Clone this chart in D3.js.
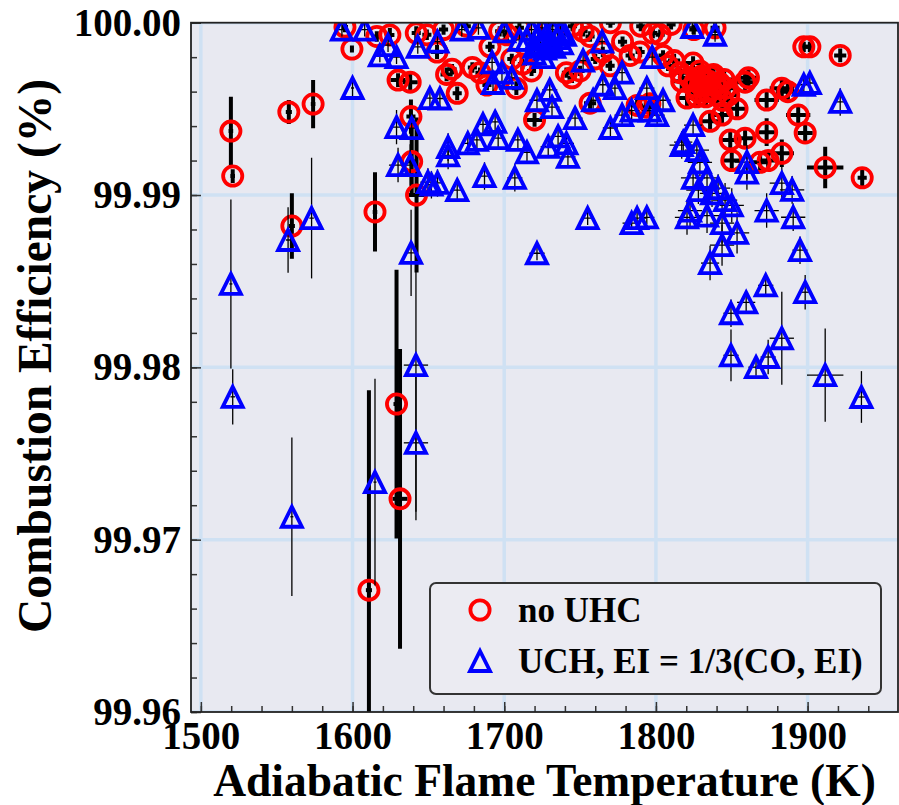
<!DOCTYPE html>
<meta charset="utf-8" />
<script src="https://d3js.org/d3.v7.min.js"></script>
<style>
  body { margin: 0; background: #fff; }
  text { font-family: "Liberation Serif", "Times New Roman", serif; font-weight: bold; }
</style>
<body>
<div id="chart"></div>
<script>
  // [T (K), efficiency (%), T error, efficiency error]
  const noUhc = [
    [1519.8, 99.99371, 1.5, 0.0020], [1521.0, 99.99110, 1.5, 0.0004],
    [1558.0, 99.99482, 2, 0.0007], [1574.0, 99.99528, 1.5, 0.0014],
    [1560.0, 99.98820, 2, 0.0019], [1614.8, 99.98902, 1.5, 0.0023],
    [1642.2, 99.99000, 5, 0.0045], [1639.0, 99.99194, 3, 0.0020],
    [1638.5, 99.99455, 3, 0.0010], [1610.8, 99.96707, 2, 0.0116],
    [1629.0, 99.97787, 2, 0.0078], [1631.3, 99.97237, 5, 0.0087],
    [1599.6, 99.99847, 1, 0.0002], [1595, 99.99975, 2, 0.0003],
    [1616, 99.9992, 3, 0.0003], [1624.6, 99.99929, 3, 0.0004],
    [1630, 99.99667, 5, 0.0004], [1638, 99.99655, 5, 0.0006],
    [1642, 99.9994, 3, 0.0004], [1649, 99.9993, 3, 0.0003],
    [1655.7, 99.9983, 4, 0.0004], [1662, 99.9970, 4, 0.0004],
    [1665.6, 99.9973, 3, 0.0003], [1669, 99.9959, 3, 0.0004],
    [1679, 99.9974, 3, 0.0003], [1684, 99.9971, 3, 0.0003],
    [1688.6, 99.99638, 3, 0.0003], [1690.6, 99.9986, 3, 0.0003],
    [1697, 99.9995, 3, 0.0003], [1701.8, 99.9993, 3, 0.0003],
    [1708, 99.9962, 3, 0.0004], [1720, 99.99436, 5, 0.0004],
    [1741, 99.9971, 3, 0.0003], [1744.7, 99.9968, 3, 0.0003],
    [1752, 99.9995, 3, 0.0003], [1756.6, 99.9992, 3, 0.0003],
    [1756.6, 99.99533, 4, 0.0004], [1765, 99.9983, 3, 0.0003],
    [1769.8, 99.9975, 3, 0.0003], [1778, 99.9989, 3, 0.0003],
    [1783, 99.9981, 3, 0.0003], [1787.6, 99.9952, 4, 0.0004],
    [1789.6, 99.9983, 3, 0.0003], [1794, 99.9951, 4, 0.0003],
    [1796, 99.9953, 4, 0.0003], [1798, 99.9994, 3, 0.0003],
    [1802.8, 99.9993, 3, 0.0003], [1804.7, 99.9981, 3, 0.0003],
    [1808, 99.9975, 4, 0.0003], [1816, 99.9971, 5, 0.0004],
    [1820.5, 99.99563, 6, 0.0005], [1824.5, 99.99766, 6, 0.0004],
    [1826, 99.9966, 6, 0.0005], [1828, 99.9960, 6, 0.0005],
    [1830, 99.9969, 6, 0.0005], [1832, 99.9963, 6, 0.0005],
    [1833, 99.9957, 6, 0.0005], [1835, 99.9966, 6, 0.0005],
    [1837, 99.9961, 6, 0.0005], [1838, 99.9970, 6, 0.0005],
    [1840, 99.9958, 6, 0.0005], [1842, 99.9965, 6, 0.0005],
    [1844, 99.9955, 6, 0.0005], [1846, 99.9962, 6, 0.0005],
    [1822, 99.9968, 6, 0.0005], [1825, 99.9963, 6, 0.0005],
    [1829, 99.9972, 6, 0.0005], [1834, 99.9960, 6, 0.0005],
    [1836, 99.9969, 6, 0.0005], [1841, 99.9962, 6, 0.0005],
    [1845, 99.9967, 6, 0.0005], [1848, 99.9958, 6, 0.0005],
    [1827, 99.9957, 6, 0.0005], [1831, 99.9966, 6, 0.0005],
    [1839, 99.9964, 6, 0.0005], [1817, 99.9966, 6, 0.0005],
    [1812, 99.9978, 4, 0.0004],
    [1835.7, 99.99428, 6, 0.0005], [1843.6, 99.99464, 6, 0.0005],
    [1839, 99.9997, 3, 0.0003], [1849, 99.9932, 6, 0.0005],
    [1850, 99.9920, 6, 0.0005], [1853.5, 99.9950, 6, 0.0005],
    [1858.8, 99.99655, 6, 0.0005], [1861, 99.9968, 6, 0.0005],
    [1858.8, 99.9933, 6, 0.0005], [1868.7, 99.9919, 6, 0.0005],
    [1873, 99.99551, 8, 0.0005], [1873, 99.99365, 6, 0.0008],
    [1874, 99.9920, 6, 0.0005], [1883, 99.9962, 8, 0.0005],
    [1883, 99.99242, 8, 0.0008], [1887, 99.9960, 8, 0.0005],
    [1893.8, 99.99464, 8, 0.0005], [1898.4, 99.9936, 5, 0.0005],
    [1897.5, 99.99860, 3, 0.0003], [1901.5, 99.99860, 3, 0.0003],
    [1911.6, 99.99160, 12, 0.0012], [1921.5, 99.9981, 4, 0.0004],
    [1936, 99.9910, 3, 0.0005],
    [1660, 99.9996, 3, 0.0003], [1675, 99.9998, 3, 0.0003],
    [1710, 99.9997, 3, 0.0003], [1730, 99.9999, 3, 0.0003],
    [1745, 99.9998, 3, 0.0003], [1770, 100.0000, 3, 0.0003],
    [1790, 99.9998, 3, 0.0003], [1810, 99.9999, 3, 0.0003],
    [1825, 99.9996, 3, 0.0003], [1712, 99.9976, 3, 0.0003],
    [1718, 99.9972, 3, 0.0003], [1705, 99.9979, 3, 0.0003],
    [1750, 99.9972, 3, 0.0003], [1760, 99.9979, 3, 0.0003]
  ];

  const uhc = [
    [1519.8, 99.98484, 1, 0.0049], [1521, 99.97829, 1.5, 0.0016],
    [1560, 99.97133, 1, 0.0046], [1557.5, 99.98739, 1.5, 0.0019],
    [1573, 99.98866, 1.5, 0.0035], [1600, 99.99621, 1, 0.0006],
    [1614.8, 99.97334, 1, 0.0060], [1641.8, 99.98013, 8, 0.0090],
    [1641.8, 99.97562, 8, 0.0040], [1638.6, 99.98664, 3, 0.0025],
    [1629, 99.99394, 4, 0.0010], [1639, 99.99388, 4, 0.0010],
    [1630, 99.99174, 6, 0.0010], [1638, 99.99174, 5, 0.0012],
    [1649.7, 99.99075, 5, 0.0008], [1652, 99.99060, 4, 0.0008],
    [1656, 99.99070, 4, 0.0008], [1663, 99.99278, 4, 0.0008],
    [1663, 99.99230, 4, 0.0008], [1669, 99.99028, 3, 0.0006],
    [1676, 99.99300, 4, 0.0006], [1682, 99.99320, 4, 0.0006],
    [1687, 99.99110, 4, 0.0008], [1686, 99.99410, 4, 0.0006],
    [1694, 99.99424, 4, 0.0006], [1696, 99.99330, 4, 0.0006],
    [1692, 99.99770, 4, 0.0005], [1698.5, 99.99710, 4, 0.0005],
    [1593, 99.99960, 3, 0.0004], [1608, 99.99960, 3, 0.0004],
    [1618, 99.99810, 3, 0.0004], [1623.4, 99.99870, 3, 0.0004],
    [1629, 99.99800, 3, 0.0004], [1643, 99.99860, 3, 0.0004],
    [1656, 99.99890, 3, 0.0004], [1672, 99.99960, 3, 0.0004],
    [1651, 99.99562, 4, 0.0005], [1657.6, 99.99560, 4, 0.0005],
    [1707, 99.99100, 5, 0.0008], [1709, 99.99320, 4, 0.0006],
    [1715, 99.99248, 4, 0.0006], [1721.6, 99.98662, 5, 0.0004],
    [1729, 99.99280, 5, 0.0006], [1735.5, 99.99340, 5, 0.0006],
    [1741, 99.99300, 5, 0.0006], [1742, 99.99221, 5, 0.0006],
    [1746.7, 99.99446, 5, 0.0006], [1721.6, 99.99550, 5, 0.0006],
    [1730, 99.99610, 5, 0.0006], [1731.5, 99.99510, 5, 0.0006],
    [1755, 99.98866, 4, 0.0004], [1784, 99.98837, 6, 0.0004],
    [1787.6, 99.98866, 6, 0.0004], [1794, 99.98870, 5, 0.0004],
    [1770, 99.99389, 5, 0.0006], [1777.7, 99.99464, 5, 0.0006],
    [1784, 99.99490, 5, 0.0006], [1794, 99.99620, 5, 0.0006],
    [1796, 99.99490, 5, 0.0006], [1800.8, 99.99464, 5, 0.0006],
    [1804.7, 99.99550, 5, 0.0006], [1797.5, 99.99800, 4, 0.0005],
    [1764.5, 99.99890, 4, 0.0005], [1752, 99.99780, 4, 0.0005],
    [1777.7, 99.99710, 4, 0.0005], [1773, 99.99620, 4, 0.0005],
    [1765, 99.99640, 4, 0.0005], [1758.6, 99.99550, 4, 0.0005],
    [1705, 99.99680, 4, 0.0005], [1692.6, 99.99650, 4, 0.0005],
    [1824, 99.99975, 4, 0.0004], [1839, 99.99930, 4, 0.0004],
    [1897.5, 99.99640, 4, 0.0005], [1901.5, 99.99650, 4, 0.0005],
    [1921.5, 99.99540, 4, 0.0008],
    [1824.5, 99.99406, 6, 0.0006], [1818, 99.99307, 6, 0.0006],
    [1817, 99.99290, 8, 0.0008], [1827, 99.99260, 8, 0.0008],
    [1829, 99.99190, 8, 0.0008], [1824.5, 99.99100, 8, 0.0008],
    [1833.7, 99.99100, 8, 0.0008], [1828, 99.99028, 8, 0.0008],
    [1837, 99.99010, 8, 0.0008], [1841, 99.99040, 8, 0.0008],
    [1845.6, 99.98970, 8, 0.0010], [1822.5, 99.98910, 8, 0.0010],
    [1820.5, 99.98870, 8, 0.0010], [1833.7, 99.98880, 8, 0.0010],
    [1850, 99.98940, 8, 0.0010], [1843.6, 99.98837, 8, 0.0012],
    [1853.5, 99.98780, 8, 0.0012], [1843.6, 99.98709, 8, 0.0012],
    [1835.7, 99.98605, 6, 0.0010], [1860, 99.99191, 8, 0.0010],
    [1860, 99.99130, 8, 0.0010], [1873, 99.98910, 8, 0.0010],
    [1883, 99.99069, 8, 0.0010], [1889.8, 99.99030, 8, 0.0008],
    [1890.5, 99.98871, 8, 0.0008], [1895, 99.98680, 5, 0.0008],
    [1898.4, 99.98436, 4, 0.0010], [1872.4, 99.98476, 5, 0.0006],
    [1859.5, 99.98377, 6, 0.0005], [1849.5, 99.98314, 5, 0.0008],
    [1883, 99.98169, 8, 0.0027], [1849.5, 99.98070, 5, 0.0015],
    [1866, 99.98001, 5, 0.0005], [1874, 99.98060, 5, 0.0010],
    [1911.6, 99.97955, 12, 0.0027], [1935.5, 99.97828, 3, 0.0015],
    [1715, 99.9990, 4, 0.0004], [1718, 99.9996, 4, 0.0004],
    [1720, 99.9986, 4, 0.0004], [1722, 99.9992, 4, 0.0004],
    [1724, 99.9988, 4, 0.0004], [1725, 99.9997, 4, 0.0004],
    [1727, 99.9985, 4, 0.0004], [1728, 99.9993, 4, 0.0004],
    [1730, 99.9989, 4, 0.0004], [1732, 99.9996, 4, 0.0004],
    [1733, 99.9986, 4, 0.0004], [1735, 99.9991, 4, 0.0004],
    [1737, 99.9995, 4, 0.0004], [1738, 99.9988, 4, 0.0004],
    [1740, 99.9993, 4, 0.0004], [1726, 99.9980, 4, 0.0004],
    [1720, 99.9982, 4, 0.0004], [1683, 99.9997, 3, 0.0004],
    [1700, 99.9995, 3, 0.0004], [1710, 99.9990, 3, 0.0004]
  ];

  const xTicks = [1500, 1600, 1700, 1800, 1900];
  const yTicks = [99.96, 99.97, 99.98, 99.99, 100.0];
  const legendLabels = ["no UHC", "UCH, EI = 1/3(CO, EI)"];

  const W = 899, H = 805;
  const pLeft = 191, pRight = 898, pTop = 22.7, pBottom = 712;

  const svg = d3.select("#chart").append("svg")
    .attr("width", W).attr("height", H);

  const x = d3.scaleLinear().domain([1493.5, 1959.6]).range([pLeft, pRight]);
  const y = d3.scaleLinear().domain([99.96, 100.0]).range([pBottom, pTop]);

  // background
  svg.append("rect")
    .attr("x", pLeft).attr("y", pTop)
    .attr("width", pRight - pLeft).attr("height", pBottom - pTop)
    .attr("fill", "#e8e9f1");

  svg.append("clipPath").attr("id", "clip")
    .append("rect")
    .attr("x", pLeft).attr("y", pTop)
    .attr("width", pRight - pLeft).attr("height", pBottom - pTop);

  // grid
  const grid = svg.append("g").attr("clip-path", "url(#clip)");
  grid.selectAll(".gx").data(xTicks).enter().append("line")
    .attr("x1", d => x(d)).attr("x2", d => x(d))
    .attr("y1", pTop).attr("y2", pBottom)
    .attr("stroke", "#cfe1f3").attr("stroke-width", 3.5);
  grid.selectAll(".gy").data(yTicks).enter().append("line")
    .attr("y1", d => y(d)).attr("y2", d => y(d))
    .attr("x1", pLeft).attr("x2", pRight)
    .attr("stroke", "#cfe1f3").attr("stroke-width", 3.5);

  const plot = svg.append("g").attr("clip-path", "url(#clip)");

  function errorBars(data, width) {
    const g = plot.append("g").attr("stroke", "#000").attr("stroke-width", width);
    g.selectAll(".ey").data(data).enter().append("line")
      .attr("x1", d => x(d[0])).attr("x2", d => x(d[0]))
      .attr("y1", d => y(d[1] - d[3])).attr("y2", d => y(d[1] + d[3]));
    g.selectAll(".ex").data(data).enter().append("line")
      .attr("y1", d => y(d[1])).attr("y2", d => y(d[1]))
      .attr("x1", d => x(d[0] - d[2])).attr("x2", d => x(d[0] + d[2]));
  }

  const tri = (cx, cy, s) =>
    `M${cx},${cy - s}L${cx + s},${cy + s}L${cx - s},${cy + s}Z`;

  // no UHC: thick error bars + red open circles
  errorBars(noUhc, 4);
  plot.append("g").selectAll("circle").data(noUhc).enter().append("circle")
    .attr("cx", d => x(d[0])).attr("cy", d => y(d[1]))
    .attr("r", 9.6)
    .attr("fill", "none").attr("stroke", "#ff0000").attr("stroke-width", 3.8);

  // UHC: thin error bars + blue open triangles
  errorBars(uhc, 1.3);
  plot.append("g").selectAll("path").data(uhc).enter().append("path")
    .attr("d", d => tri(x(d[0]), y(d[1]), 10))
    .attr("fill", "none").attr("stroke", "#0000ff").attr("stroke-width", 3.8)
    .attr("stroke-linejoin", "miter");

  // axes
  const xAxis = svg.append("g").attr("transform", `translate(0,${pBottom})`)
    .call(d3.axisBottom(x).tickValues(xTicks).tickSizeInner(-10).tickSizeOuter(0)
      .tickPadding(9).tickFormat(d3.format("d")));
  svg.append("g").attr("transform", `translate(0,${pBottom})`)
    .call(d3.axisBottom(x).tickValues(d3.range(1500, 1960, 20)).tickSizeInner(-6)
      .tickSizeOuter(0).tickFormat(""))
    .call(g => g.select(".domain").remove());

  const yAxis = svg.append("g").attr("transform", `translate(${pLeft},0)`)
    .call(d3.axisLeft(y).tickValues(yTicks).tickSizeInner(-10).tickSizeOuter(0)
      .tickPadding(10).tickFormat(d3.format(".2f")));
  svg.append("g").attr("transform", `translate(${pLeft},0)`)
    .call(d3.axisLeft(y).tickValues(d3.range(0, 21).map(i => 99.96 + i * 0.002))
      .tickSizeInner(-6).tickSizeOuter(0).tickFormat(""))
    .call(g => g.select(".domain").remove());

  svg.selectAll(".tick line").attr("stroke", "#333").attr("stroke-width", 1.5);
  [xAxis, yAxis].forEach(a => {
    a.select(".domain").remove();
    a.selectAll("text").attr("font-size", 39).attr("fill", "#000")
      .style("font-family", "'Liberation Serif', 'Times New Roman', serif")
      .style("font-weight", "bold");
  });

  // frame
  svg.append("rect")
    .attr("x", pLeft).attr("y", pTop)
    .attr("width", pRight - pLeft).attr("height", pBottom - pTop)
    .attr("fill", "none").attr("stroke", "#222").attr("stroke-width", 1.8);

  // axis labels
  svg.append("text")
    .attr("x", (pLeft + pRight) / 2).attr("y", 796)
    .attr("text-anchor", "middle").attr("font-size", 45.5)
    .text("Adiabatic Flame Temperature (K)");

  svg.append("text")
    .attr("transform", "translate(51,356) rotate(-90)")
    .attr("text-anchor", "middle").attr("font-size", 47.5)
    .text("Combustion Efficiency (%)");

  // legend
  const lg = svg.append("g");
  lg.append("rect")
    .attr("x", 430).attr("y", 583).attr("width", 451).attr("height", 111)
    .attr("rx", 6)
    .attr("fill", "#ebebf2").attr("stroke", "#333").attr("stroke-width", 2);
  lg.append("circle").attr("cx", 480).attr("cy", 610).attr("r", 9.6)
    .attr("fill", "none").attr("stroke", "#ff0000").attr("stroke-width", 3.8);
  lg.append("path").attr("d", tri(480, 661, 10))
    .attr("fill", "none").attr("stroke", "#0000ff").attr("stroke-width", 3.8);
  lg.selectAll(".lt").data(legendLabels).enter().append("text")
    .attr("x", 518).attr("y", (d, i) => 622 + i * 51)
    .attr("font-size", 35)
    .text(d => d);
</script>
</body>
